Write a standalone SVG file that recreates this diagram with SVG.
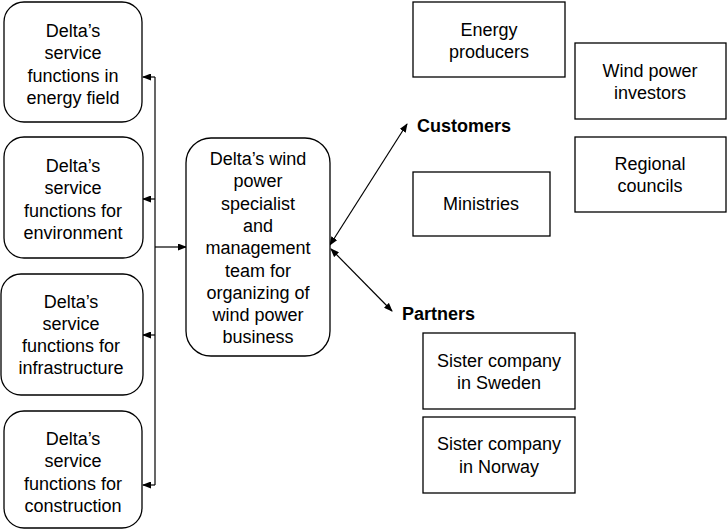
<svg xmlns="http://www.w3.org/2000/svg" width="727" height="531" viewBox="0 0 727 531">
  <style>
    .box { fill: #ffffff; stroke: #000000; stroke-width: 1.3; }
    .lbl { font-family: "Liberation Sans", Arial, sans-serif; font-size: 18px; fill: #000000; text-anchor: middle; }
    .hdr { font-family: "Liberation Sans", Arial, sans-serif; font-size: 18px; font-weight: bold; fill: #000000; }
    .con { stroke: #000000; stroke-width: 1.2; fill: none; }
  </style>
  <defs>
    <marker id="ah" markerUnits="userSpaceOnUse" markerWidth="9" markerHeight="7" refX="8" refY="3.5" orient="auto-start-reverse">
      <path d="M0,0 L9,3.5 L0,7 z" fill="#000000"/>
    </marker>
  </defs>
  <rect width="727" height="531" fill="#ffffff"/>

  <!-- Connectors -->
  <g id="connectors">
    <line class="con" x1="155" y1="77" x2="155" y2="485"/>
    <line class="con" x1="155" y1="77" x2="143" y2="77" marker-end="url(#ah)"/>
    <line class="con" x1="155" y1="199" x2="143" y2="199" marker-end="url(#ah)"/>
    <line class="con" x1="155" y1="335" x2="143" y2="335" marker-end="url(#ah)"/>
    <line class="con" x1="155" y1="485" x2="143" y2="485" marker-end="url(#ah)"/>
    <line class="con" x1="155" y1="247" x2="186" y2="247" marker-end="url(#ah)"/>
    <line class="con" x1="330" y1="245" x2="407" y2="124" marker-start="url(#ah)" marker-end="url(#ah)"/>
    <line class="con" x1="331" y1="249" x2="392" y2="311" marker-start="url(#ah)" marker-end="url(#ah)"/>
  </g>

  <!-- Left column: service functions -->
  <g id="energy-field">
    <rect class="box" x="4" y="2" width="138" height="120" rx="20"/>
    <text class="lbl" x="73" y="37">Delta’s</text>
    <text class="lbl" x="73" y="59">service</text>
    <text class="lbl" x="73" y="82">functions in</text>
    <text class="lbl" x="73" y="104">energy field</text>
  </g>
  <g id="environment">
    <rect class="box" x="4" y="137" width="139" height="121" rx="20"/>
    <text class="lbl" x="73" y="172">Delta’s</text>
    <text class="lbl" x="73" y="194">service</text>
    <text class="lbl" x="73" y="217">functions for</text>
    <text class="lbl" x="73" y="239">environment</text>
  </g>
  <g id="infrastructure">
    <rect class="box" x="1" y="274" width="142" height="121" rx="20"/>
    <text class="lbl" x="71" y="308">Delta’s</text>
    <text class="lbl" x="71" y="330">service</text>
    <text class="lbl" x="71" y="352">functions for</text>
    <text class="lbl" x="71" y="374">infrastructure</text>
  </g>
  <g id="construction">
    <rect class="box" x="4" y="411" width="138" height="117" rx="20"/>
    <text class="lbl" x="73" y="445">Delta’s</text>
    <text class="lbl" x="73" y="467">service</text>
    <text class="lbl" x="73" y="490">functions for</text>
    <text class="lbl" x="73" y="512">construction</text>
  </g>

  <!-- Central team -->
  <g id="team">
    <rect class="box" x="186" y="138" width="144" height="218" rx="25"/>
    <text class="lbl" x="258" y="165">Delta’s wind</text>
    <text class="lbl" x="258" y="187">power</text>
    <text class="lbl" x="258" y="210">specialist</text>
    <text class="lbl" x="258" y="232">and</text>
    <text class="lbl" x="258" y="254">management</text>
    <text class="lbl" x="258" y="277">team for</text>
    <text class="lbl" x="258" y="299">organizing of</text>
    <text class="lbl" x="258" y="321">wind power</text>
    <text class="lbl" x="258" y="343">business</text>
  </g>

  <!-- Customers -->
  <g id="customers">
    <text class="hdr" x="417" y="132">Customers</text>
  </g>
  <g id="energy-producers">
    <rect class="box" x="413" y="2" width="152" height="75"/>
    <text class="lbl" x="489" y="36">Energy</text>
    <text class="lbl" x="489" y="58">producers</text>
  </g>
  <g id="wind-power-investors">
    <rect class="box" x="575" y="43" width="151" height="76"/>
    <text class="lbl" x="650" y="77">Wind power</text>
    <text class="lbl" x="650" y="99">investors</text>
  </g>
  <g id="regional-councils">
    <rect class="box" x="575" y="137" width="151" height="75"/>
    <text class="lbl" x="650" y="170">Regional</text>
    <text class="lbl" x="650" y="192">councils</text>
  </g>
  <g id="ministries">
    <rect class="box" x="413" y="172" width="137" height="64"/>
    <text class="lbl" x="481" y="210">Ministries</text>
  </g>

  <!-- Partners -->
  <g id="partners">
    <text class="hdr" x="402" y="320">Partners</text>
  </g>
  <g id="sister-sweden">
    <rect class="box" x="423" y="333" width="152" height="76"/>
    <text class="lbl" x="499" y="367">Sister company</text>
    <text class="lbl" x="499" y="389">in Sweden</text>
  </g>
  <g id="sister-norway">
    <rect class="box" x="423" y="417" width="152" height="76"/>
    <text class="lbl" x="499" y="450">Sister company</text>
    <text class="lbl" x="499" y="473">in Norway</text>
  </g>
</svg>
